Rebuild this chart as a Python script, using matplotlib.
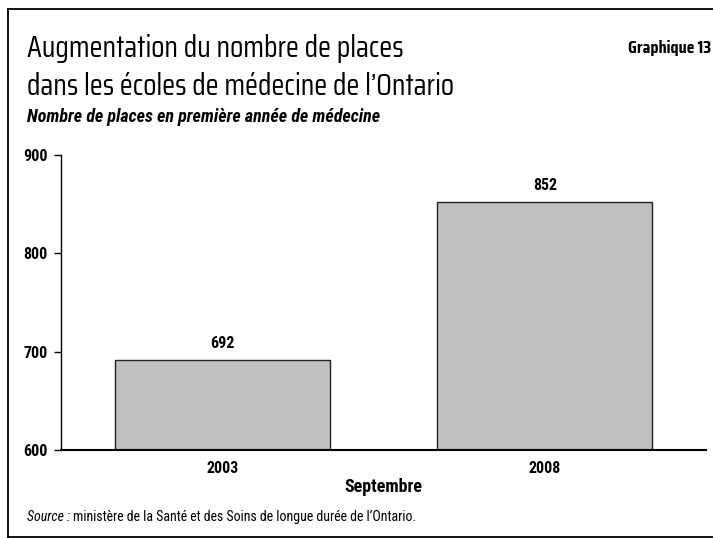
import matplotlib

matplotlib.use('Agg')
import matplotlib.pyplot as plt
from matplotlib.lines import Line2D

plt.rcParams['font.family'] = ['Roboto Condensed', 'DejaVu Sans']
titre_font = ['Saira Condensed', 'Roboto Condensed', 'DejaVu Sans']

# données
annees = ['2003', '2008']
places = [692, 852]
yticks = [600, 700, 800, 900]

W, H = 713, 538
fig = plt.figure(figsize=(W / 100, H / 100), dpi=100)

# cadre (gauche, haut, bas)
fig.add_artist(Line2D([8 / W, 8 / W], [1 - 9 / H, 1 - 537 / H], color='black', lw=1.3))
fig.add_artist(Line2D([8 / W, 1], [1 - 9 / H, 1 - 9 / H], color='black', lw=1.3))
fig.add_artist(Line2D([8 / W, 1], [1 - 537 / H, 1 - 537 / H], color='black', lw=1.3))

# titres
fig.text(27 / W, 1 - 57 / H, 'Augmentation du nombre de places', fontsize=21.7,
         family=titre_font, ha='left', va='baseline')
fig.text(27 / W, 1 - 95 / H, "dans les écoles de médecine de l’Ontario", fontsize=21.7,
         family=titre_font, ha='left', va='baseline')
fig.text(711 / W, 1 - 53 / H, 'Graphique 13', fontsize=13, fontweight='bold',
         family=titre_font, ha='right', va='baseline')
fig.text(27 / W, 1 - 122 / H, 'Nombre de places en première année de médecine',
         fontsize=13, fontweight='bold', fontstyle='italic', ha='left', va='baseline')

ax = fig.add_axes([61 / W, 1 - 450 / H, (706 - 61) / W, (450 - 155) / H])
x = list(range(len(annees)))
bars = ax.bar(x, places, width=0.668, color='#c0c0c0', edgecolor='#222222', linewidth=1.0, zorder=2)
for xi, v in zip(x, places):
    ax.text(xi, v + 9, str(v), ha='center', va='bottom', fontsize=11.5, fontweight='bold')

ax.set_xlim(-0.5, 1.5)
ax.set_ylim(600, 900)
ax.set_yticks(yticks)
ax.set_yticklabels([str(t) for t in yticks], fontsize=11.5, fontweight='bold')
ax.set_xticks(x)
ax.set_xticklabels(annees, fontsize=11.5, fontweight='bold')
ax.tick_params(axis='x', length=0, pad=8)
ax.tick_params(axis='y', length=5, width=1, direction='out', pad=4.5)
ax.spines['top'].set_visible(False)
ax.spines['right'].set_visible(False)
ax.spines['left'].set_linewidth(1)
ax.spines['bottom'].set_linewidth(1.5)
ax.set_xlabel('Septembre', fontsize=13, fontweight='bold', labelpad=1)

# source
t = fig.text(27 / W, 1 - 521 / H, 'Source :', fontsize=10, fontstyle='italic', ha='left', va='baseline')
fig.canvas.draw()
bb = t.get_window_extent()
fig.text(bb.x1 / W + 3 / W, 1 - 521 / H, 'ministère de la Santé et des Soins de longue durée de l’Ontario.',
         fontsize=10, ha='left', va='baseline')

plt.savefig('out.png', dpi=100)
